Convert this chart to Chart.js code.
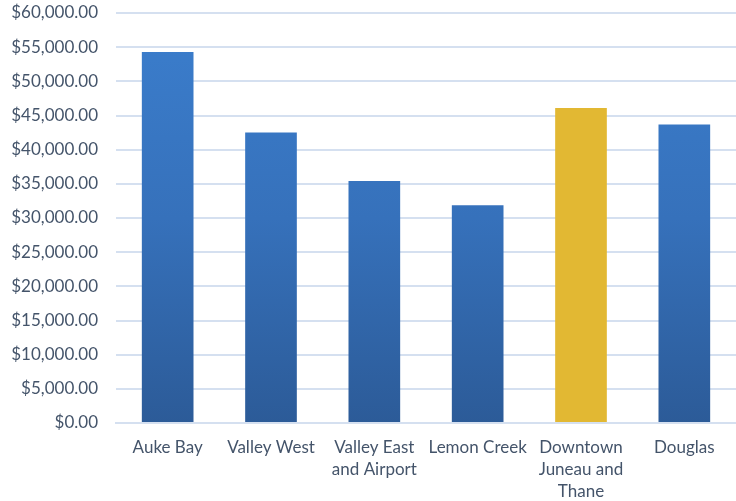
<!DOCTYPE html>
<html>
<head>
<meta charset="utf-8">
<script src="https://cdn.jsdelivr.net/npm/chart.js@4/dist/chart.umd.min.js"></script>
<style>
html,body{margin:0;padding:0;background:#fff;}
#wrap{width:736px;height:501px;position:relative;}
</style>
</head>
<body>
<div id="wrap"><canvas id="c" width="736" height="501"></canvas></div>
<script>
const categories = [
  "Auke Bay",
  "Valley West",
  ["Valley East", "and Airport"],
  "Lemon Creek",
  ["Downtown", "Juneau and", "Thane"],
  "Douglas"
];
const values = [54300, 42500, 35400, 31850, 46100, 43700];
const highlighted = [false, false, false, false, true, false];

const gridColor = "#d5e0f0";
const textColor = "#44546a";

function barFill(ctx) {
  const chart = ctx.chart;
  const area = chart.chartArea;
  if (!area) return "#3a7bc8";
  if (highlighted[ctx.dataIndex]) return "#e2b833";
  const g = chart.ctx.createLinearGradient(0, area.top, 0, area.bottom);
  g.addColorStop(0, "#3b7ecd");
  g.addColorStop(0.5, "#3671bb");
  g.addColorStop(1, "#2c5b98");
  return g;
}

new Chart(document.getElementById("c"), {
  type: "bar",
  data: {
    labels: categories,
    datasets: [{
      data: values,
      backgroundColor: barFill,
      borderWidth: 0,
      categoryPercentage: 1.0,
      barPercentage: 0.5
    }]
  },
  options: {
    responsive: false,
    animation: false,
    devicePixelRatio: 1,
    layout: { padding: 0 },
    plugins: { legend: { display: false }, tooltip: { enabled: false } },
    scales: {
      x: {
        grid: { display: false, drawTicks: false },
        border: { display: true, color: gridColor, width: 2 },
        afterFit: s => { s.height = 78; s.paddingTop = 0; s.paddingBottom = 0; },
        ticks: {
          color: textColor,
          font: { family: "Lato", size: 17, lineHeight: 1.3 },
          padding: 13,
          maxRotation: 0,
          autoSkip: false
        }
      },
      y: {
        min: 0,
        max: 60000,
        grid: { color: gridColor, lineWidth: 2, drawTicks: false },
        border: { display: false },
        afterFit: s => { s.width = 116; s.paddingTop = 13; s.paddingBottom = 0; },
        ticks: {
          stepSize: 5000,
          color: textColor,
          font: { family: "Lato", size: 17 },
          padding: 18,
          callback: v => "$" + Number(v).toLocaleString("en-US", { minimumFractionDigits: 2, maximumFractionDigits: 2 })
        }
      }
    }
  }
});
</script>
</body>
</html>
